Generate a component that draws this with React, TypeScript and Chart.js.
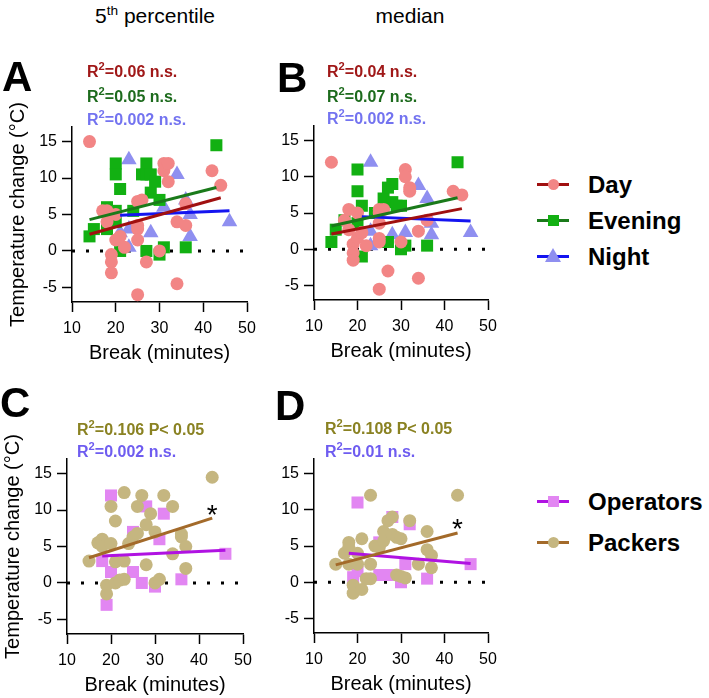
import React, { useEffect, useRef } from 'react';
import { Chart, registerables } from 'chart.js';
Chart.register(...registerables);

const FONT = "'Liberation Sans', Arial, Helvetica, sans-serif";

// ---- axes ----
const xTicks = [10, 20, 30, 40, 50];
const yTicks = [-5, 0, 5, 10, 15];
const xRange = [10, 50];
const yRange = [-7, 17];
const zeroLineX = [10, 50];
const zeroLineY = [0, 0];

// ---- Panel A (5th percentile, shifts) ----
const aDayX = [14, 17, 18, 18, 19, 19, 19, 20, 20, 21, 22, 25, 25, 25, 25, 25, 26, 27, 30, 31, 31, 32, 32, 34, 34, 36, 36, 42, 44];
const aDayY = [15, 5.5, 5.5, 4, -0.5, -1.5, -3, 5, 1.5, 2, 0.5, 3.5, 3, 1.5, -6, 6.8, 7, -1.5, 0, 12, 11, 12, 9.5, 4, -4.5, 6.5, 3.5, 11, 9];
const aEveX = [14, 15, 18, 18, 18, 20, 20, 20, 20, 21, 21, 24, 26, 27, 27, 28, 28, 29, 30, 27, 30, 31, 36, 43];
const aEveY = [2, 3, 6, 5.5, 3, 12, 10.5, 5.5, 4, 8.5, 0, 5.5, 10.5, 12, 10.5, 10.5, 8, 9.5, 7, 0, -0.5, 0.5, 0.5, 14.5];
const aNightX = [23, 21, 23, 23, 28, 31, 34, 36, 37, 37, 46];
const aNightY = [12.5, 2.5, 3, 0.5, 2.5, 6, 10.5, 7, 5, 2, 4];
const aDayFitX = [14, 44];
const aDayFitY = [2.3, 7.3];
const aEveFitX = [14, 43];
const aEveFitY = [4.3, 8.7];
const aNightFitX = [21, 46];
const aNightFitY = [4.9, 5.5];

// ---- Panel B (median, shifts) ----
const bDayX = [14, 17, 18, 18, 19, 19, 19, 20, 20, 21, 22, 25, 25, 25, 25, 25, 26, 25, 27, 30, 31, 31, 32, 32, 34, 34, 36, 42, 44];
const bDayY = [12, 4, 5.5, 2.7, 0.7, -0.5, -1.5, 5, 1.6, 2.3, 0.5, 5.5, 5, 3.6, 1.5, 1, 5.5, -5.5, -3, 1, 11, 10, 8.5, 8, 2.5, -4, 4, 8, 7.5];
const bEveX = [14, 15, 17, 20, 20, 20, 21, 21, 24, 26, 27, 28, 28, 29, 30, 27, 30, 31, 36, 43];
const bEveY = [1, 2.7, 4, 11, 8, 3.6, 6, -1, 5, 7, 8.5, 9, 6.5, 6, 6, 1, 0, 0.5, 0.5, 12];
const bNightX = [23, 23, 23, 28, 31, 34, 36, 37, 37, 46];
const bNightY = [12, 2.5, 0.5, 2, 2.3, 8.8, 7, 3.6, 2, 2.3];
const bDayFitX = [14, 44];
const bDayFitY = [2.1, 5.6];
const bEveFitX = [14, 43];
const bEveFitY = [3.2, 7.1];
const bNightFitX = [21, 46];
const bNightFitY = [4.5, 3.9];

// ---- Panel C (5th percentile, roles) ----
const cPackX = [15, 17, 18, 18, 19, 19, 20, 20, 21, 21, 21, 23, 22, 23, 23, 24, 25, 26, 26, 27, 28, 28, 29, 30, 30, 31, 32, 34, 34, 36, 36, 37, 37, 43];
const cPackY = [3, 5.5, 6, 5, -0.3, -1.5, 10.5, 5.4, 8.5, 2.9, 0, 12.4, 0.4, 0.5, 3, 5.4, 6.3, 10.5, 6.8, 12, 8, 2.5, 9.5, 7, 0, 0.5, 12, 10.5, 4, 6.7, 6.3, 5, 2, 14.5];
const cOpX = [20, 18, 20, 19, 25, 25, 27, 28, 30, 31, 32, 36, 46];
const cOpY = [12, 3, 1.5, -3, 7, 1.5, 0, 10.5, -0.5, 6, 9.5, 0.5, 4];
const cPackFitX = [15, 43];
const cPackFitY = [3.45, 8.9];
const cOpFitX = [18, 46];
const cOpFitY = [3.7, 4.5];
const cStar = [43, 9.9];

// ---- Panel D (median, roles) ----
const dPackX = [15, 17, 18, 18, 18, 19, 19, 20, 20, 21, 21, 22, 23, 23, 23, 24, 25, 26, 26, 27, 28, 28, 29, 30, 29, 30, 31, 32, 34, 36, 36, 37, 37, 43];
const dPackY = [2.5, 4, 5.5, 4.9, 2.5, -0.4, -1.5, 4, 2.5, 6, -1, 0.5, 12, 2.5, 0.5, 5, 4.8, 5.7, 7, 8.5, 9, 6.6, 6.2, 6, 1, 0.8, 0.6, 8.5, 2.5, 7, 4.5, 3.7, 2, 12];
const dOpX = [20, 19, 20, 25, 25, 26, 27, 28, 30, 31, 32, 36, 46];
const dOpY = [11, 0.7, 1.5, 5.5, 1, 1, 1, 9, 0, 2.5, 8, 0.5, 2.5];
const dPackFitX = [15, 43];
const dPackFitY = [2.4, 6.8];
const dOpFitX = [18, 46];
const dOpFitY = [4.0, 2.6];
const dStar = [43, 8.0];

// ---- colours ----
const C = {
  dayPt: '#f28585', dayLine: '#a01010', dayText: '#a01818',
  evePt: '#12b012', eveLine: '#1a7a1a', eveText: '#1d6b1d',
  nightPt: '#8f8ff0', nightLine: '#1414f0', nightText: '#7373f0',
  opPt: '#e286f2', opLine: '#b012e2', opText: '#6e5cf0',
  packPt: '#c5b680', packLine: '#a36a2a', packText: '#8a8222',
};

type Series = { x: number[]; y: number[]; style: 'circle' | 'rect' | 'triangle'; radius: number; color: string };
type Fit = { x: number[]; y: number[]; color: string };
type Area = { l: number; r: number; t: number; b: number };

const toPts = (xs: number[], ys: number[]) => xs.map((x, i) => ({ x, y: ys[i] }));

const starPlugin = {
  id: 'star',
  afterDatasetsDraw(chart: any, _args: any, opts: any) {
    if (!opts || !opts.point) return;
    const { ctx, scales } = chart;
    const px = scales.x.getPixelForValue(opts.point[0]);
    const py = scales.y.getPixelForValue(opts.point[1]);
    ctx.save();
    ctx.font = `28px ${FONT}`;
    ctx.fillStyle = '#000';
    ctx.textAlign = 'center';
    ctx.textBaseline = 'middle';
    ctx.fillText('*', px, py + 6);
    ctx.restore();
  },
};

const PAD_TOP = 60, PAD_RIGHT = 18, PAD_BOTTOM = 2, Y_W = 72, X_H = 63;

function Panel({ area, yTitle, series, fits, star }: { area: Area; yTitle: boolean; series: Series[]; fits: Fit[]; star?: number[] }) {
  const ref = useRef<HTMLCanvasElement>(null);
  const left = area.l - Y_W;
  const top = area.t - PAD_TOP;
  const w = area.r - area.l + Y_W + PAD_RIGHT;
  const h = area.b - area.t + PAD_TOP + X_H + PAD_BOTTOM;

  useEffect(() => {
    if (!ref.current) return;
    const datasets: any[] = [
      ...fits.map((f) => ({
        type: 'line', data: toPts(f.x, f.y), borderColor: f.color, borderWidth: 3,
        pointRadius: 0, showLine: true, fill: false, order: 0,
      })),
      ...series.map((s, i) => ({
        type: 'scatter', data: toPts(s.x, s.y), pointStyle: s.style, pointRadius: s.radius,
        pointHoverRadius: s.radius, backgroundColor: s.color, borderColor: s.color, borderWidth: 0, order: 1 + i,
      })),
      {
        type: 'line', data: toPts(zeroLineX, zeroLineY), borderColor: '#000', borderWidth: 3,
        borderDash: [3, 11], pointRadius: 0, showLine: true, fill: false, order: 99,
      },
    ];
    const tickFont = { size: 16, family: FONT };
    const titleFont = { size: 20, family: FONT };
    const chart = new Chart(ref.current, {
      type: 'scatter',
      data: { datasets },
      options: {
        responsive: false,
        maintainAspectRatio: false,
        animation: false,
        layout: { padding: { left: 0, top: PAD_TOP, right: PAD_RIGHT, bottom: PAD_BOTTOM } },
        plugins: { legend: { display: false }, tooltip: { enabled: false }, star: { point: star } } as any,
        scales: {
          x: {
            type: 'linear', min: xRange[0], max: xRange[1],
            afterBuildTicks: (s: any) => { s.ticks = xTicks.map((v) => ({ value: v })); },
            afterFit: (s: any) => { s.height = X_H; },
            grid: { drawOnChartArea: false, drawTicks: true, tickLength: 10, tickWidth: 1.5, color: '#000' },
            border: { color: '#000', width: 1.5 },
            ticks: { font: tickFont, color: '#000', padding: 7, maxRotation: 0, autoSkip: false },
            title: { display: true, text: 'Break (minutes)', font: titleFont, color: '#000', padding: 0 },
          },
          y: {
            type: 'linear', min: yRange[0], max: yRange[1],
            afterBuildTicks: (s: any) => { s.ticks = yTicks.map((v) => ({ value: v })); },
            afterFit: (s: any) => { s.width = Y_W; },
            grid: { drawOnChartArea: false, drawTicks: true, tickLength: 10, tickWidth: 1.5, color: '#000' },
            border: { color: '#000', width: 1.5 },
            ticks: { font: tickFont, color: '#000', padding: 5, autoSkip: false },
            title: { display: yTitle, text: 'Temperature change (°C)', font: titleFont, color: '#000', padding: { top: 6, bottom: 0 } },
          },
        },
      } as any,
      plugins: [starPlugin as any],
    });
    return () => chart.destroy();
  }, []);

  return (
    <canvas
      ref={ref}
      width={w}
      height={h}
      style={{ position: 'absolute', left, top, width: w, height: h }}
    />
  );
}

function R2({ left, top, color, value, tail }: { left: number; top: number; color: string; value: string; tail: string }) {
  return (
    <div style={{ position: 'absolute', left, top, color, font: `bold 16px/16px ${FONT}`, whiteSpace: 'nowrap' }}>
      R<span style={{ fontSize: '0.7em', position: 'relative', top: '-0.6em' }}>2</span>={value} {tail}
    </div>
  );
}

function Letter({ left, top, text }: { left: number; top: number; text: string }) {
  return <div style={{ position: 'absolute', left, top, font: `bold 42px/42px ${FONT}`, color: '#000' }}>{text}</div>;
}

function LegendItem({ cy, lineColor, marker, markerColor, text }: { cy: number; lineColor: string; marker: 'circle' | 'rect' | 'triangle'; markerColor: string; text: string }) {
  let m: React.CSSProperties;
  if (marker === 'circle') m = { left: 548, top: cy - 5.5, width: 11, height: 11, borderRadius: '50%', background: markerColor };
  else if (marker === 'rect') m = { left: 548, top: cy - 5.5, width: 11, height: 11, background: markerColor };
  else m = { left: 545, top: cy - 8, width: 0, height: 0, borderLeft: '8px solid transparent', borderRight: '8px solid transparent', borderBottom: `14px solid ${markerColor}` };
  return (
    <>
      <div style={{ position: 'absolute', left: 537, top: cy - 1.5, width: 32, height: 3, background: lineColor }} />
      <div style={{ position: 'absolute', ...m }} />
      <div style={{ position: 'absolute', left: 588, top: cy - 11, font: `bold 24px/24px ${FONT}`, color: '#000', whiteSpace: 'nowrap' }}>{text}</div>
    </>
  );
}

export default function App() {
  const dayS = (x: number[], y: number[]): Series => ({ x, y, style: 'circle', radius: 6.5, color: C.dayPt });
  const eveS = (x: number[], y: number[]): Series => ({ x, y, style: 'rect', radius: 8.5, color: C.evePt });
  const nightS = (x: number[], y: number[]): Series => ({ x, y, style: 'triangle', radius: 9, color: C.nightPt });
  const opS = (x: number[], y: number[]): Series => ({ x, y, style: 'rect', radius: 8.5, color: C.opPt });
  const packS = (x: number[], y: number[]): Series => ({ x, y, style: 'circle', radius: 6.5, color: C.packPt });

  return (
    <div style={{ position: 'absolute', left: 0, top: 0, width: 709, height: 698, background: '#fff', overflow: 'hidden', fontFamily: FONT }}>
      <Panel
        area={{ l: 72, r: 247, t: 127, b: 302 }}
        yTitle={true}
        series={[dayS(aDayX, aDayY), eveS(aEveX, aEveY), nightS(aNightX, aNightY)]}
        fits={[
          { x: aDayFitX, y: aDayFitY, color: C.dayLine },
          { x: aEveFitX, y: aEveFitY, color: C.eveLine },
          { x: aNightFitX, y: aNightFitY, color: C.nightLine },
        ]}
      />
      <Panel
        area={{ l: 314, r: 488, t: 126, b: 300 }}
        yTitle={false}
        series={[dayS(bDayX, bDayY), eveS(bEveX, bEveY), nightS(bNightX, bNightY)]}
        fits={[
          { x: bDayFitX, y: bDayFitY, color: C.dayLine },
          { x: bEveFitX, y: bEveFitY, color: C.eveLine },
          { x: bNightFitX, y: bNightFitY, color: C.nightLine },
        ]}
      />
      <Panel
        area={{ l: 67, r: 243, t: 459, b: 634 }}
        yTitle={true}
        series={[packS(cPackX, cPackY), opS(cOpX, cOpY)]}
        fits={[
          { x: cPackFitX, y: cPackFitY, color: C.packLine },
          { x: cOpFitX, y: cOpFitY, color: C.opLine },
        ]}
        star={cStar}
      />
      <Panel
        area={{ l: 314, r: 488, t: 459, b: 633 }}
        yTitle={false}
        series={[packS(dPackX, dPackY), opS(dOpX, dOpY)]}
        fits={[
          { x: dPackFitX, y: dPackFitY, color: C.packLine },
          { x: dOpFitX, y: dOpFitY, color: C.opLine },
        ]}
        star={dStar}
      />

      <div style={{ position: 'absolute', left: 55, top: 5, width: 200, textAlign: 'center', font: `21px/21px ${FONT}` }}>
        5<span style={{ fontSize: '0.65em', position: 'relative', top: '-0.6em' }}>th</span> percentile
      </div>
      <div style={{ position: 'absolute', left: 310, top: 5, width: 200, textAlign: 'center', font: `21px/21px ${FONT}` }}>median</div>

      <Letter left={2} top={56} text="A" />
      <Letter left={277} top={57} text="B" />
      <Letter left={0} top={382} text="C" />
      <Letter left={275} top={385} text="D" />

      <R2 left={87} top={64} color={C.dayText} value="0.06" tail="n.s." />
      <R2 left={87} top={89} color={C.eveText} value="0.05" tail="n.s." />
      <R2 left={87} top={112} color={C.nightText} value="0.002" tail="n.s." />
      <R2 left={327} top={64} color={C.dayText} value="0.04" tail="n.s." />
      <R2 left={327} top={89} color={C.eveText} value="0.07" tail="n.s." />
      <R2 left={327} top={111} color={C.nightText} value="0.002" tail="n.s." />
      <R2 left={77} top={422} color={C.packText} value="0.106" tail="P< 0.05" />
      <R2 left={77} top={444} color={C.opText} value="0.002" tail="n.s." />
      <R2 left={325} top={421} color={C.packText} value="0.108" tail="P< 0.05" />
      <R2 left={325} top={444} color={C.opText} value="0.01" tail="n.s." />

      <LegendItem cy={184} lineColor={C.dayLine} marker="circle" markerColor={C.dayPt} text="Day" />
      <LegendItem cy={220} lineColor={C.eveLine} marker="rect" markerColor={C.evePt} text="Evening" />
      <LegendItem cy={256} lineColor={C.nightLine} marker="triangle" markerColor={C.nightPt} text="Night" />
      <LegendItem cy={501} lineColor={C.opLine} marker="rect" markerColor={C.opPt} text="Operators" />
      <LegendItem cy={542} lineColor={C.packLine} marker="circle" markerColor={C.packPt} text="Packers" />
    </div>
  );
}
